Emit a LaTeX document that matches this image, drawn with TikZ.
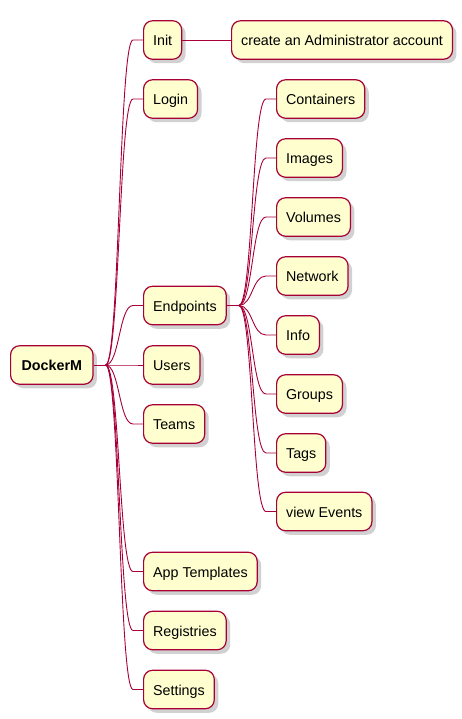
\documentclass[tikz,border=0pt]{standalone}
\usepackage{fontspec}
\setmainfont{Liberation Sans}
\usetikzlibrary{calc,shadows}
\definecolor{boxfill}{HTML}{FEFECE}
\definecolor{boxline}{HTML}{A80036}
\tikzset{
  mmbox/.style={draw=boxline, fill=boxfill, line width=1.2pt, rounded corners=9pt,
    anchor=west, inner xsep=9.5pt, inner ysep=0pt, minimum height=38.5pt,
    text height=13pt, text depth=1.5pt, font=\fontsize{14.3pt}{16pt}\selectfont,
    drop shadow={shadow xshift=4pt, shadow yshift=-4pt, opacity=0.3, fill=black!60}},
  link/.style={draw=boxline, line width=0.9pt},
}
\newcommand{\branch}[2]{%
  \draw[link] (#1) .. controls +(14,0) and +(-14,0) .. ($(#2.west)+(-10,0)$) -- (#2.west);}
\begin{document}
\begin{tikzpicture}[x=1pt,y=-1pt]
\useasboundingbox (0,0) rectangle (462,719);
% nodes
\node[mmbox, inner xsep=11pt] (root) at (10,365) {\textbf{DockerM}};
\node[mmbox] (init) at (143,40) {Init};
\node[mmbox] (admin) at (231,40) {create an Administrator account};
\node[mmbox] (login) at (143,99) {Login};
\node[mmbox] (endp) at (143,305.5) {Endpoints};
\node[mmbox] (users) at (143,365) {Users};
\node[mmbox] (teams) at (143,424) {Teams};
\node[mmbox] (apps) at (143,571.5) {App Templates};
\node[mmbox] (regs) at (143,630.5) {Registries};
\node[mmbox] (sets) at (143,689.5) {Settings};
\node[mmbox] (cont) at (276,99) {Containers};
\node[mmbox] (imgs) at (276,158) {Images};
\node[mmbox] (vols) at (276,217) {Volumes};
\node[mmbox] (netw) at (276,276) {Network};
\node[mmbox] (info) at (276,335) {Info};
\node[mmbox] (grps) at (276,394) {Groups};
\node[mmbox] (tags) at (276,453) {Tags};
\node[mmbox] (evts) at (276,511.5) {view Events};
% junctions
\coordinate (rj) at ($(root.east)+(12,0)$);
\coordinate (ej) at ($(endp.east)+(12,0)$);
\draw[link] (root.east) -- (rj);
\draw[link] (endp.east) -- (ej);
\draw[link] (init.east) -- (admin.west);
\branch{rj}{init}
\branch{rj}{login}
\branch{rj}{endp}
\branch{rj}{users}
\branch{rj}{teams}
\branch{rj}{apps}
\branch{rj}{regs}
\branch{rj}{sets}
\branch{ej}{cont}
\branch{ej}{imgs}
\branch{ej}{vols}
\branch{ej}{netw}
\branch{ej}{info}
\branch{ej}{grps}
\branch{ej}{tags}
\branch{ej}{evts}
\end{tikzpicture}
\end{document}
